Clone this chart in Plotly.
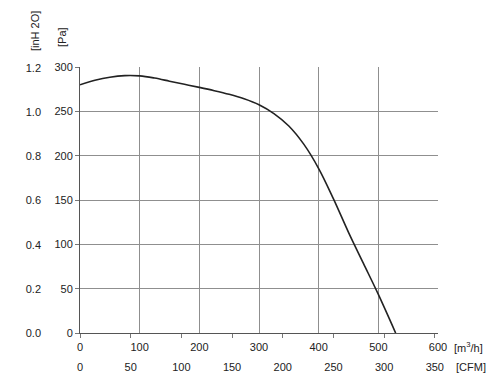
import plotly.graph_objects as go

# Fan curve data (m^3/h vs Pa)
flow_m3h = [0, 25, 50, 75, 100, 125, 150, 175, 200, 225, 250, 275, 300, 325, 350, 375, 400, 425, 450, 475, 500, 529]
pressure_pa = [280, 285, 288.5, 290.3, 290, 287.5, 284, 280.5, 277, 273.3, 269.2, 264.2, 257.5, 247.5, 233.5, 213, 185.5, 151, 113.5, 78.5, 43.5, 0]

m3h_ticks = [0, 100, 200, 300, 400, 500, 600]
cfm_ticks = [0, 50, 100, 150, 200, 250, 300, 350]
pa_ticks = [0, 50, 100, 150, 200, 250, 300]
inh2o_ticks = [0.0, 0.2, 0.4, 0.6, 0.8, 1.0, 1.2]

M3H_PER_CFM = 1.699
PA_PER_INH2O = 249.089

FONT = dict(family="Liberation Sans, Arial, sans-serif", size=11, color="#222222")
GRID = "#8f8f8f"

fig = go.Figure()
fig.add_trace(go.Scatter(x=flow_m3h, y=pressure_pa, mode="lines",
                         line=dict(color="#222222", width=1.6, shape="spline", smoothing=1.0),
                         hoverinfo="skip", showlegend=False))
# invisible helper traces for secondary axes
fig.add_trace(go.Scatter(x=[0], y=[0], xaxis="x2", yaxis="y", mode="markers",
                         marker=dict(opacity=0), showlegend=False, hoverinfo="skip"))
fig.add_trace(go.Scatter(x=[0], y=[0], xaxis="x", yaxis="y2", mode="markers",
                         marker=dict(opacity=0), showlegend=False, hoverinfo="skip"))

fig.update_layout(
    width=500, height=389,
    margin=dict(l=80, r=62, t=67, b=56),
    paper_bgcolor="white", plot_bgcolor="white",
    font=FONT,
    xaxis=dict(range=[0, 600], tickvals=m3h_ticks, showgrid=True, gridcolor=GRID, gridwidth=1,
               showline=True, linecolor="#555555", linewidth=1, ticks="", zeroline=False,
               tickfont=FONT, ticklabelstandoff=4, mirror=False),
    xaxis2=dict(range=[0, 600 / M3H_PER_CFM], overlaying="x", side="bottom", anchor="y",
                tickvals=cfm_ticks, showgrid=False, zeroline=False, showline=False,
                ticks="outside", ticklen=4, tickcolor="#777777", tickfont=FONT,
                ticklabelstandoff=20),
    yaxis=dict(range=[0, 300], tickvals=pa_ticks, showgrid=True, gridcolor=GRID, gridwidth=1,
               showline=True, linecolor="#555555", linewidth=1, ticks="outside", ticklen=4,
               tickcolor="#777777", zeroline=False, tickfont=FONT),
    yaxis2=dict(range=[0, 300 / PA_PER_INH2O], overlaying="y", side="left", anchor="x",
                tickvals=inh2o_ticks, tickformat=".1f", showgrid=False, zeroline=False,
                showline=False, ticks="", tickfont=FONT, ticklabelstandoff=38),
)

fig.add_annotation(text="[m<sup>3</sup>/h]", xref="paper", yref="paper", x=1.0, y=0,
                   xshift=14, yshift=-14, xanchor="left", yanchor="middle", showarrow=False, font=FONT)
fig.add_annotation(text="[CFM]", xref="paper", yref="paper", x=1.0, y=0,
                   xshift=16, yshift=-34, xanchor="left", yanchor="middle", showarrow=False, font=FONT)
fig.add_annotation(text="[inH 2O]", xref="paper", yref="paper", x=0, y=1,
                   xshift=-45, yshift=36, textangle=-90, xanchor="center", yanchor="middle",
                   showarrow=False, font=FONT)
fig.add_annotation(text="[Pa]", xref="paper", yref="paper", x=0, y=1,
                   xshift=-18, yshift=30, textangle=-90, xanchor="center", yanchor="middle",
                   showarrow=False, font=FONT)

fig.write_html("out.html")
